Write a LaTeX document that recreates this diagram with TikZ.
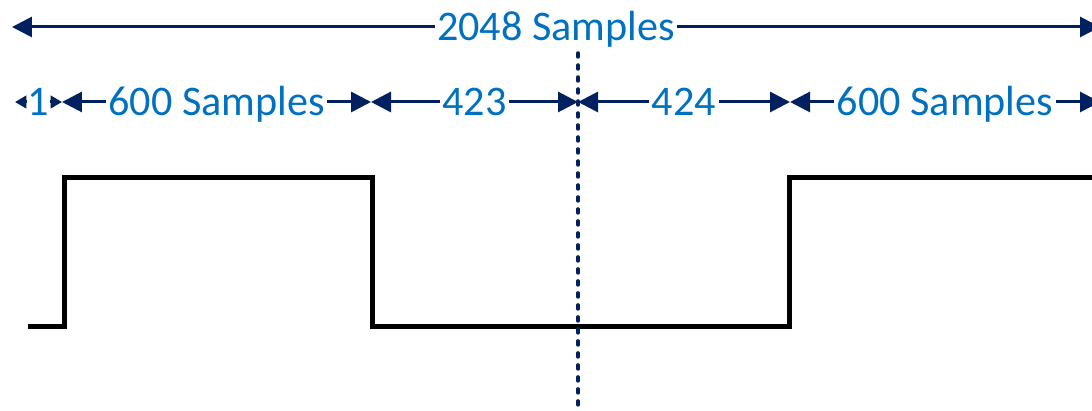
\documentclass[tikz,border=0pt]{standalone}
\usepackage{fontspec}
\setmainfont{Carlito}
\usetikzlibrary{arrows.meta}
\definecolor{dimnavy}{RGB}{0,32,96}
\definecolor{dimblue}{RGB}{0,112,192}

\begin{document}
\begin{tikzpicture}[
    x=0.02cm, y=-0.02cm,
    font=\fontsize{24}{28}\selectfont,
    dim/.style={{Triangle[length=4mm,width=4mm]}-{Triangle[length=4mm,width=4mm]},
                dimnavy,line width=0.06cm},
    dimtip/.style={-{Triangle[length=2.3mm,width=2.5mm]},dimnavy,line width=0.06cm},
    lbl/.style={fill=white,text=dimblue,inner xsep=1.5pt,inner ysep=0pt,
                text height=15pt,text depth=0pt},
    wave/.style={black,line width=0.1cm,line join=miter},
    centre/.style={dimnavy,line width=0.07cm,line cap=round,
                   dash pattern=on 0.08cm off 0.16cm}
  ]
  \useasboundingbox (0,0) rectangle (1092,411);

  % total frame length
  \coordinate (a0) at (12,27);
  \coordinate (a1) at (1100,27);
  \draw[dim] (a0) -- (a1) node[lbl,midway] (total) {2048 Samples};

  % segment marks
  \coordinate (t0) at (15,102);
  \coordinate (t1) at (62,102);
  \coordinate (t2) at (371,102);
  \coordinate (t3) at (578,102);
  \coordinate (t4) at (790,102);
  \coordinate (t5) at (1100,102);

  % the single sample is too short for a line, only the two tips
  \node[lbl,fill=none,inner xsep=0pt] (s1) at (38.5,102) {1};
  \draw[dimtip] (s1) -- (t0);
  \draw[dimtip] (s1) -- (t1);

  \draw[dim] (t1) -- (t2) node[lbl,midway] (s2) {600 Samples};
  \draw[dim] (t2) -- (t3) node[lbl,midway] (s3) {423};
  \draw[dim] (t3) -- (t4) node[lbl,midway] (s4) {424};
  \draw[dim] (t4) -- (t5) node[lbl,midway] (s5) {600 Samples};

  % window
  \draw[wave] (28,327) -- (64,327) -- (64,178) -- (372,178) -- (372,327)
              -- (789,327) -- (789,178) -- (1100,178);

  % centre line
  \coordinate (c0) at (578,53);
  \coordinate (c1) at (578,415);
  \draw[centre] (c0) -- (c1);
\end{tikzpicture}
\end{document}
